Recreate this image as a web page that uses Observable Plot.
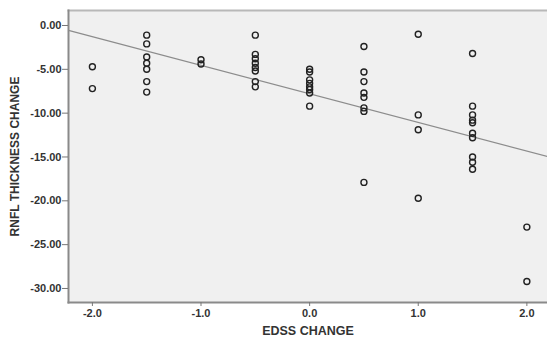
<!DOCTYPE html>
<html>
<head>
<meta charset="utf-8">
<script src="https://cdn.jsdelivr.net/npm/d3@7"></script>
<script src="https://cdn.jsdelivr.net/npm/@observablehq/plot@0.6"></script>
<style>
  html, body { margin: 0; padding: 0; background: #ffffff; }
  #chart svg { display: block; }
</style>
</head>
<body>
<div id="chart"></div>
<script>
// EDSS change (x) and RNFL thickness change (y), one entry per patient
const edssChange = [
  -2, -2,
  -1.5, -1.5, -1.5, -1.5, -1.5, -1.5, -1.5,
  -1, -1,
  -0.5, -0.5, -0.5, -0.5, -0.5, -0.5, -0.5, -0.5,
  0, 0, 0, 0, 0, 0, 0, 0,
  0.5, 0.5, 0.5, 0.5, 0.5, 0.5, 0.5, 0.5,
  1, 1, 1, 1,
  1.5, 1.5, 1.5, 1.5, 1.5, 1.5, 1.5, 1.5, 1.5, 1.5,
  2, 2
];
const rnflChange = [
  -4.7, -7.2,
  -1.1, -2.1, -3.6, -4.3, -5.0, -6.4, -7.6,
  -3.9, -4.4,
  -1.1, -3.3, -3.8, -4.3, -4.8, -5.2, -6.4, -7.0,
  -5.0, -5.3, -6.2, -6.6, -7.0, -7.3, -7.7, -9.2,
  -2.4, -5.3, -6.4, -7.7, -8.2, -9.4, -9.8, -17.9,
  -1.0, -10.2, -11.9, -19.7,
  -3.2, -9.2, -10.2, -10.8, -11.1, -12.3, -12.8, -15.0, -15.6, -16.4,
  -23.0, -29.2
];
const xTicks = [-2, -1, 0, 1, 2];
const yTicks = [0, -5, -10, -15, -20, -25, -30];
const xLabel = "EDSS CHANGE";
const yLabel = "RNFL THICKNESS CHANGE";
const xDomain = [-2.22, 2.19];
const yDomain = [-31.6, 1.71];

const points = edssChange.map((x, i) => ({x, y: rnflChange[i]}));

// least-squares fit line, spanning the whole x domain
const mx = d3.mean(edssChange), my = d3.mean(rnflChange);
const sxy = d3.sum(points, d => (d.x - mx) * (d.y - my));
const sxx = d3.sum(points, d => (d.x - mx) ** 2);
const slope = sxy / sxx;
const intercept = my - slope * mx;
const fitLine = xDomain.map(x => ({x, y: intercept + slope * x}));

const chart = Plot.plot({
  width: 547,
  height: 340,
  marginLeft: 68,
  marginRight: 0,
  marginTop: 10,
  marginBottom: 38,
  style: {
    fontFamily: "'Liberation Sans', Arial, sans-serif",
    fontWeight: "bold",
    fontSize: "10px",
    color: "#333",
    background: "#ffffff"
  },
  x: {domain: xDomain},
  y: {domain: yDomain},
  marks: [
    Plot.frame({fill: "#f0f0f0", stroke: null}),
    Plot.frame({anchor: "top", stroke: "#b8b8b8", strokeWidth: 2}),
    Plot.frame({anchor: "left", stroke: "#8a8a8a", strokeWidth: 2}),
    Plot.frame({anchor: "bottom", stroke: "#8a8a8a", strokeWidth: 2}),
    Plot.line(fitLine, {x: "x", y: "y", stroke: "#8c8c8c", strokeWidth: 1.2}),
    Plot.dot(points, {x: "x", y: "y", r: 3, stroke: "#222", strokeWidth: 1.4}),
    Plot.axisY({
      ticks: yTicks,
      tickFormat: d => d.toFixed(2),
      tickSize: 6,
      tickPadding: 1,
      fontSize: 11,
      stroke: "#777",
      label: null
    }),
    Plot.axisY({
      ticks: [],
      label: yLabel,
      labelArrow: "none",
      labelAnchor: "center",
      labelOffset: 58,
      fontSize: 12
    }),
    Plot.axisX({
      ticks: xTicks,
      tickFormat: d => d.toFixed(1),
      tickSize: 4,
      tickPadding: 3,
      fontSize: 11,
      stroke: "#777",
      label: null
    }),
    Plot.axisX({
      ticks: [],
      label: xLabel,
      labelArrow: "none",
      labelAnchor: "center",
      labelOffset: 32,
      fontSize: 12.5
    })
  ]
});
document.getElementById("chart").appendChild(chart);
</script>
</body>
</html>
